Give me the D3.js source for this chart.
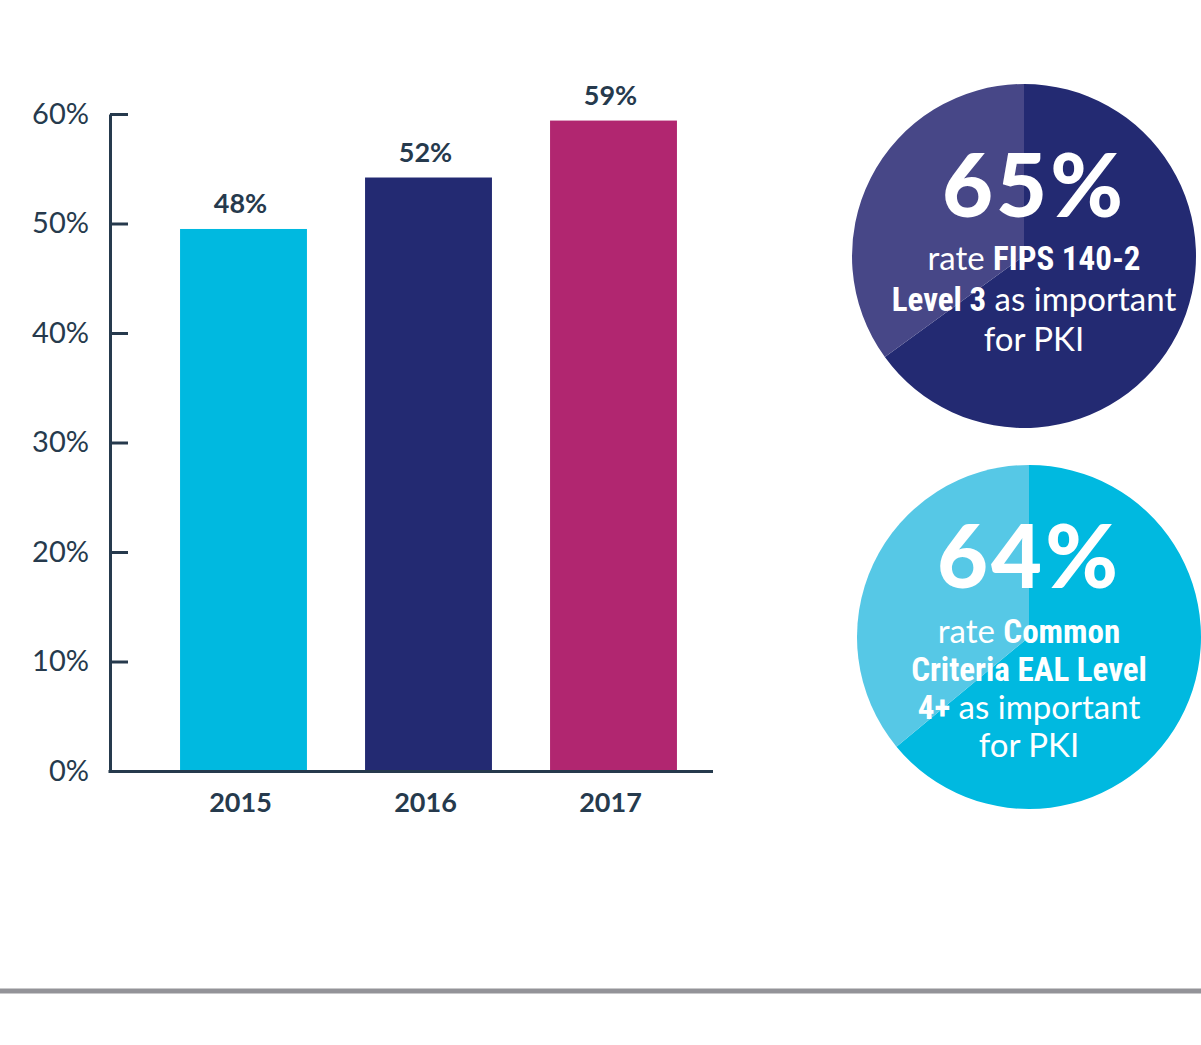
<!DOCTYPE html>
<html>
<head>
<meta charset="utf-8">
<script src="https://cdn.jsdelivr.net/npm/d3@7"></script>
<style>
  body { margin: 0; background: #fff; }
  svg { display: block; }
  .tick text { font-family: Lato, "Noto Sans", sans-serif; }
</style>
</head>
<body>
<svg width="1201" height="1045"></svg>
<script>
// bar chart data
let years = ['2015', '2016', '2017']
let barValues = [49.5, 54.2, 59.4]          // bar heights as drawn
let barLabels = ['48%', '52%', '59%']       // printed labels
let barColors = ['#00b9e0', '#232a72', '#b12670']
let yTicks = [0, 10, 20, 30, 40, 50, 60]

// pie data
let pieShares = [[65, 35], [64, 36]]
let pieColors = [['#232a72', '#474787'], ['#00b9e0', '#56c8e6']]
let pieBig = ['65%', '64%']
// lines of text: [text, bold?]
let pieLines = [
  [[['rate ', 0], ['FIPS 140-2', 1]],
   [['Level 3', 1], [' as important', 0]],
   [['for PKI', 0]]],
  [[['rate ', 0], ['Common', 1]],
   [['Criteria EAL Level', 1]],
   [['4+', 1], [' as important', 0]],
   [['for PKI', 0]]]
]

let ink = '#263a4d'
let svg = d3.select('svg')

/* Bars */

let y = d3.scaleLinear().domain([0, 60]).range([771, 114])
let x = d3.scaleBand().domain(years).range([151, 706]).paddingInner(0.314).paddingOuter(0.157)

let yAxis = svg.append('g')
  .attr('transform', 'translate(110,0)')
  .call(d3.axisLeft(y).tickValues(yTicks).tickFormat(d => d + '%')
    .tickSizeInner(-18).tickSizeOuter(0).tickPadding(21))
yAxis.select('.domain').attr('stroke', ink).attr('stroke-width', 3)
yAxis.selectAll('.tick line').attr('stroke', ink).attr('stroke-width', 3)
yAxis.selectAll('.tick text').attr('fill', ink).attr('font-size', 29).attr('font-weight', 400)

svg.selectAll('rect.bar')
  .data(years)
  .enter().append('rect')
  .attr('class', 'bar')
  .attr('x', d => x(d))
  .attr('width', x.bandwidth())
  .attr('y', (d, i) => y(barValues[i]))
  .attr('height', (d, i) => y(0) - y(barValues[i]))
  .attr('fill', (d, i) => barColors[i])

svg.selectAll('text.val')
  .data(years)
  .enter().append('text')
  .attr('class', 'val')
  .attr('x', d => x(d) + x.bandwidth() / 2 - 3)
  .attr('y', (d, i) => y(barValues[i]) - 16)
  .attr('text-anchor', 'middle')
  .attr('font-family', 'Lato, "Open Sans", sans-serif')
  .attr('font-weight', 700)
  .attr('font-size', 27)
  .attr('fill', ink)
  .text((d, i) => barLabels[i])

let xAxis = svg.append('g')
  .attr('transform', `translate(0,${y(0)})`)
  .call(d3.axisBottom(x).tickSize(0).tickPadding(22))
xAxis.select('.domain').remove()
xAxis.selectAll('.tick text').attr('fill', ink).attr('font-size', 27).attr('font-weight', 700).attr('dx', -3)

svg.append('line')
  .attr('x1', 108.5).attr('x2', 713)
  .attr('y1', y(0) + 0.5).attr('y2', y(0) + 0.5)
  .attr('stroke', ink).attr('stroke-width', 3)

/* Pies */

let centres = [{x: 1024, y: 256}, {x: 1029, y: 637}]
let pie = d3.pie().sort(null)
let arc = d3.arc().innerRadius(0).outerRadius(172)

centres.forEach((c, k) => {
  let g = svg.append('g').attr('transform', `translate(${c.x},${c.y})`)
  g.selectAll('path')
    .data(pie(pieShares[k]))
    .enter().append('path')
    .attr('d', arc)
    .attr('fill', (d, i) => pieColors[k][i])

  g.append('text')
    .attr('x', k == 0 ? 10 : 0)
    .attr('y', k == 0 ? -39 : -49)
    .attr('text-anchor', 'middle')
    .attr('font-family', 'Lato, "Open Sans", sans-serif')
    .attr('font-weight', 900)
    .attr('font-size', 88)
    .attr('letter-spacing', 3)
    .attr('fill', '#fff')
    .text(pieBig[k])

  let top = k == 0 ? 14 : 6
  let step = k == 0 ? 40.5 : 38
  pieLines[k].forEach((line, j) => {
    let t = g.append('text')
      .attr('x', k == 0 ? 10 : 0)
      .attr('y', top + j * step)
      .attr('text-anchor', 'middle')
      .attr('fill', '#fff')
      .attr('font-size', 33)
    line.forEach(p => {
      t.append('tspan')
        .attr('font-family', p[1] ? '"Liberation Sans Narrow", "Roboto Condensed", sans-serif' : 'Lato, "Noto Sans", sans-serif')
        .attr('font-weight', p[1] ? 700 : 400)
        .text(p[0])
    })
  })
})

/* rule at bottom */
svg.append('line')
  .attr('x1', 0).attr('x2', 1201)
  .attr('y1', 991).attr('y2', 991)
  .attr('stroke', '#939398').attr('stroke-width', 5)
</script>
</body>
</html>
